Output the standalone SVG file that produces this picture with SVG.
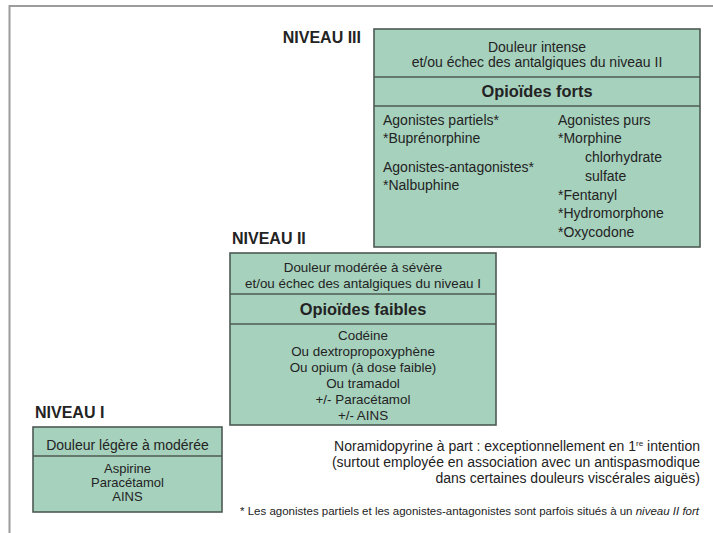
<svg xmlns="http://www.w3.org/2000/svg" width="713" height="533" viewBox="0 0 713 533">
<style>
text{font-family:"Liberation Sans",Arial,sans-serif;fill:#232323}
.lvl{font-size:16px;font-weight:bold}
.box{fill:#a6d1bd;stroke:#4e5a54;stroke-width:1.6}
.div{stroke:#4e5a54;stroke-width:1.4}
.t{font-size:14px}
.t2{font-size:13.4px}
.t3{font-size:13px}
.h{font-size:16.4px;font-weight:bold}
.c{text-anchor:middle}
.n{font-size:14px;text-anchor:end}
</style>
<rect width="713" height="533" fill="#ffffff"/>
<path d="M9.5,533 V6 H713" fill="none" stroke="#9c9c9c" stroke-width="2"/>

<g id="niveau3">
<text class="lvl" x="361" y="43" text-anchor="end">NIVEAU III</text>
<rect class="box" x="374" y="29" width="326" height="218"/>
<line class="div" x1="374" y1="77" x2="700" y2="77"/>
<line class="div" x1="374" y1="106" x2="700" y2="106"/>
<text class="t c" x="537" y="52">Douleur intense</text>
<text class="t c" x="537" y="67">et/ou échec des antalgiques du niveau II</text>
<text class="h c" x="537" y="97">Opioïdes forts</text>
<text class="t" x="383" y="125">Agonistes partiels*</text>
<text class="t" x="383" y="143">*Buprénorphine</text>
<text class="t" x="383" y="172">Agonistes-antagonistes*</text>
<text class="t" x="383" y="190">*Nalbuphine</text>
<text class="t" x="558" y="125">Agonistes purs</text>
<text class="t" x="558" y="143">*Morphine</text>
<text class="t" x="585" y="162">chlorhydrate</text>
<text class="t" x="585" y="181">sulfate</text>
<text class="t" x="558" y="200">*Fentanyl</text>
<text class="t" x="558" y="218">*Hydromorphone</text>
<text class="t" x="558" y="237">*Oxycodone</text>
</g>

<g id="niveau2">
<text class="lvl" x="232" y="244">NIVEAU II</text>
<rect class="box" x="230" y="253" width="266" height="172"/>
<line class="div" x1="230" y1="294" x2="496" y2="294"/>
<line class="div" x1="230" y1="324" x2="496" y2="324"/>
<text class="t2 c" x="363" y="272">Douleur modérée à sévère</text>
<text class="t2 c" x="363" y="288">et/ou échec des antalgiques du niveau I</text>
<text class="h c" x="363" y="315">Opioïdes faibles</text>
<text class="t2 c" x="363" y="340">Codéine</text>
<text class="t2 c" x="363" y="356">Ou dextropropoxyphène</text>
<text class="t2 c" x="363" y="372">Ou opium (à dose faible)</text>
<text class="t2 c" x="363" y="388">Ou tramadol</text>
<text class="t2 c" x="363" y="404">+/- Paracétamol</text>
<text class="t2 c" x="363" y="420">+/- AINS</text>
</g>

<g id="niveau1">
<text class="lvl" x="35" y="418">NIVEAU I</text>
<rect class="box" x="33" y="427" width="189" height="85"/>
<line class="div" x1="33" y1="456" x2="222" y2="456"/>
<text class="t c" x="127.5" y="450">Douleur légère à modérée</text>
<text class="t3 c" x="127.5" y="473">Aspirine</text>
<text class="t3 c" x="127.5" y="487">Paracétamol</text>
<text class="t3 c" x="127.5" y="501">AINS</text>
</g>

<g id="notes">
<text class="n" x="700" y="451">Noramidopyrine à part : exceptionnellement en 1<tspan dy="-5" style="font-size:8px">re</tspan><tspan dy="5"> intention</tspan></text>
<text class="n" x="700" y="467">(surtout employée en association avec un antispasmodique</text>
<text class="n" x="700" y="483">dans certaines douleurs viscérales aiguës)</text>
<text x="240" y="515" style="font-size:11.5px">* Les agonistes partiels et les agonistes-antagonistes sont parfois situés à un <tspan font-style="italic">niveau II fort</tspan></text>
</g>

<g id="connectors"></g>
</svg>
